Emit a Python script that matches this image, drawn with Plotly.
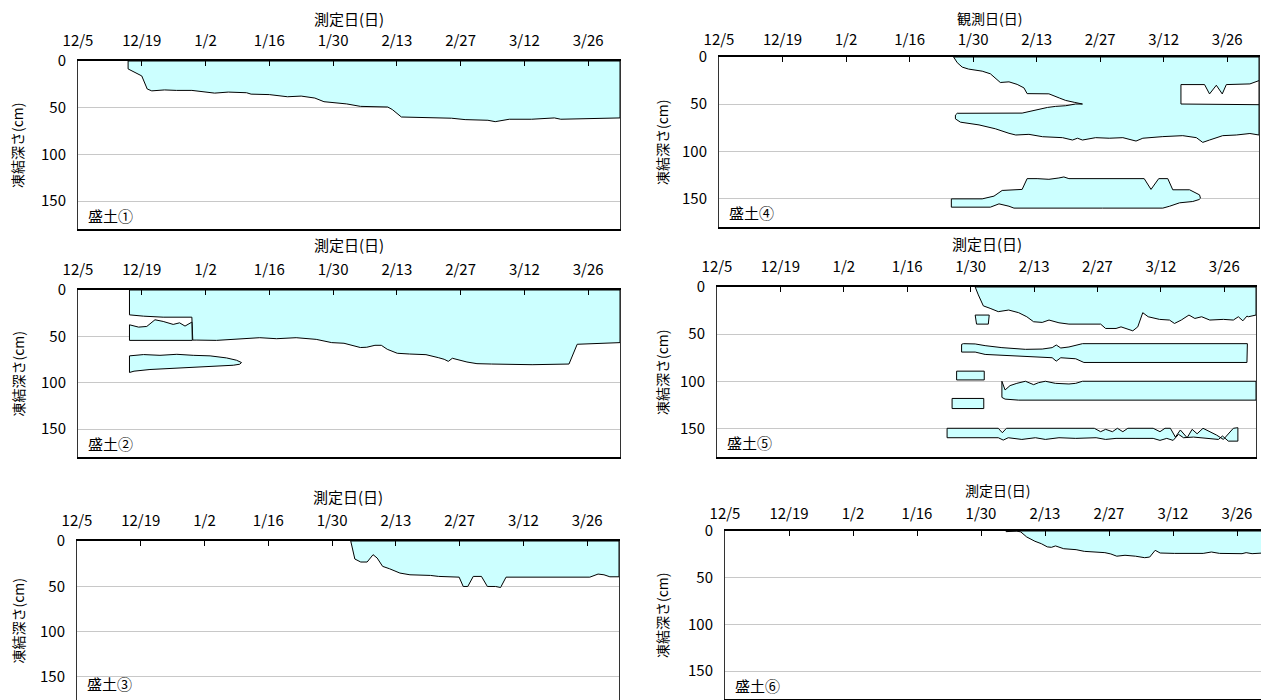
import plotly.graph_objects as go

# ---------------- axis labels ----------------
tick_days = [0, 14, 28, 42, 56, 70, 84, 98, 112]
tick_labels = ["12/5", "12/19", "1/2", "1/16", "1/30", "2/13", "2/27", "3/12", "3/26"]
depth_ticks = [0, 50, 100, 150]
x_titles = ["測定日(日)", "測定日(日)", "測定日(日)", "観測日(日)", "測定日(日)", "測定日(日)"]
y_title = "凍結深さ(cm)"
panel_names = ["盛土①", "盛土②", "盛土③", "盛土④", "盛土⑤", "盛土⑥"]

# ---------------- data (days since 12/5, frozen depth cm) ----------------
# Panel 1
p1_top_day = [11, 119]
p1_top_depth = [0, 0]
p1_bot_day = [11, 14, 15.2, 16.2, 19, 21.6, 25, 28, 30, 33, 37, 38, 42, 46, 49, 52, 54, 59, 62, 68,
              69, 71, 74.5, 78, 82, 85, 90, 91.6, 94.7, 99.6, 104.6, 106, 119]
p1_bot_depth = [8.5, 16, 30, 32, 31, 31.5, 31.5, 33, 34.4, 33.3, 34, 35.5, 36, 38.3, 37.6, 39.7, 43.6, 46, 48.6, 49.3,
                52, 60, 60, 61, 61.3, 62.8, 63.5, 65, 62.4, 62.4, 61, 62.4, 61]

# Panel 2
p2_a_top_day = [11.3, 119]
p2_a_top_depth = [0, 0]
p2_a_bot_day = [11.3, 14.4, 18.7, 25.0, 25.2, 26.1, 30.4, 34.1, 39.9, 43.6, 47.9, 52.3, 55.7, 58.4, 62, 63.4,
                65.2, 66.6, 67.9, 70.1, 72.8, 76.4, 79.1, 80.4, 81.3, 82.2, 85.4, 87.6, 90.8, 99.7, 107.8,
                109.6, 113.2, 119]
p2_a_bot_depth = [26.8, 28.2, 29.3, 29.3, 54.0, 54.0, 54.3, 53.2, 51.4, 52.5, 51.4, 53.2, 56.7, 57.4, 62, 61.7,
                  59.6, 59.6, 63.9, 68.2, 69, 69.7, 72.9, 74.7, 76.9, 73.6, 77.6, 79.4, 79.8, 80.5, 79.8,
                  58.5, 57.8, 56.7]
p2_b_top_day = [11.3, 13.3, 15.1, 16.9, 18.7, 20.9, 22.3, 23.5, 25.0]
p2_b_top_depth = [37.5, 40, 39.3, 32.1, 33.9, 37.1, 35.4, 38.9, 34.6]
p2_b_bot_day = [11.3, 25.1]
p2_b_bot_depth = [54.3, 54.3]
p2_c_top_day = [11.3, 14.4, 18, 21.7, 25.3, 29, 32.6, 34.8, 35.9]
p2_c_top_depth = [71, 69.6, 70.4, 69.3, 70.4, 71, 73.2, 75.7, 78.2]
p2_c_bot_day = [11.3, 12.3, 15.8, 20.2, 25.3, 30.4, 34.1, 35.5, 35.9]
p2_c_bot_depth = [88.9, 87.5, 85.7, 84.6, 83.2, 82.1, 81.1, 80, 78.2]

# Panel 3
p3_top_day = [60.1, 119]
p3_top_depth = [0, 0]
p3_bot_day = [60.1, 61, 62.3, 63.7, 65, 65.9, 67.1, 68.6, 70.9, 73.1, 77.6, 79.4, 83.9, 84.8, 85.8, 87,
              88.8, 90.1, 91.9, 93, 94.2, 112.6, 114.4, 115.7, 117, 119]
p3_bot_depth = [0, 19.9, 23.2, 23.2, 15.1, 18.8, 28, 30.6, 35.4, 37.3, 38, 39.1, 39.9, 50.2, 50.2, 39.1,
                39.1, 50.2, 50.2, 51.3, 39.9, 39.9, 36.5, 37.3, 39.5, 39.5]

# Panel 4
p4_surface_day = [51.7, 119]
p4_surface_depth = [0, 0]
p4_upper_lower_day = [51.7, 52.5, 53.6, 55, 58, 59.8, 62, 63.9, 65.7, 67.2, 67.9, 72.7, 75, 76.4, 78.3, 80.1]
p4_upper_lower_depth = [0, 6, 10.7, 12.8, 15, 17.8, 27, 26.3, 29, 32.7, 38.8, 39, 43.4, 46, 48, 49.8]
p4_mid_upper_day = [52.1, 52.5, 66.8, 68.3, 70.5, 72.4, 74.2, 76.4, 78.6, 80.1]
p4_mid_upper_depth = [61.5, 59.6, 59.4, 57.7, 55.5, 53.4, 52.3, 51.6, 49.8, 49.8]
p4_lower_day = [52.1, 53.2, 57.3, 60.9, 63.9, 65.4, 68.3, 71.3, 75.7, 77.9, 79, 80.1, 83, 86, 89, 91.9,
                93.4, 97.8, 102.2, 105.2, 106.6, 108.1, 111, 114, 117, 119]
p4_lower_depth = [65.5, 69, 71.9, 76, 80.8, 82.6, 81.9, 84.4, 85.4, 87.9, 86, 87.9, 85.4, 86, 85.4, 89,
                  86, 84.3, 83.3, 85.4, 90.4, 87.9, 83.3, 82.6, 81, 82.6]
p4_hole_top_day = [101.8, 107, 108.1, 109.6, 110.9, 111.8, 117, 118.6, 119]
p4_hole_top_depth = [29.2, 29.2, 39.1, 29.9, 39.1, 29.2, 28.5, 25.6, 25]
p4_hole_bot_day = [101.8, 111, 117, 119]
p4_hole_bot_depth = [49.8, 49.8, 50.5, 50.5]
p4_deep_top_day = [51.2, 58, 60.6, 62.4, 66.8, 67.9, 70.1, 72.7, 74.9, 76, 77.1, 93.7, 95.2, 96.9, 98.9,
                   100, 103.7, 105.2, 105.9, 106.1]
p4_deep_top_depth = [150.2, 150.2, 147.3, 141.3, 140.2, 128.8, 128.8, 129.5, 128.1, 127, 128.8, 128.8,
                     140.2, 128.8, 128.8, 140.6, 140.6, 143.8, 146, 149.5]
p4_deep_bot_day = [51.2, 59.8, 61.7, 63.9, 65, 84.5, 97.8, 99.3, 101.5, 104.4, 105.8, 106.1]
p4_deep_bot_depth = [159, 159, 155.5, 158, 160, 160, 160, 158, 154.4, 153, 150.9, 149.5]

# Panel 5
p5_z1_top_day = [57, 119]
p5_z1_top_depth = [0, 0]
p5_z1_bot_day = [57, 57.7, 58.8, 60.3, 62.1, 64.4, 66.6, 68.4, 69.9, 71.8, 73.3, 75.5, 77.7, 84.7, 85.8,
                 88.1, 89.2, 91.8, 92.9, 94, 95.2, 97.7, 99.9, 101, 102.5, 104.2, 105.5, 107, 108.8, 111.8,
                 114, 115.1, 116.1, 117, 117.3, 119]
p5_z1_bot_depth = [0, 8.4, 20, 22.6, 26.1, 24.4, 27.2, 31.5, 36.8, 37.5, 35, 37.9, 39.3, 39.3, 43.9,
                   43.9, 42.2, 46.4, 42.2, 27.2, 31.5, 34.3, 35, 38.6, 35, 29.7, 33.3, 31.5, 35, 34.3,
                   35, 31.5, 35.8, 30.8, 31.5, 29.7]
p5_z2_top_day = [57, 60.1]
p5_z2_top_depth = [29.7, 29.7]
p5_z2_bot_day = [57.3, 59.9]
p5_z2_bot_depth = [39.3, 39.3]
p5_z3_top_day = [54, 54.4, 57, 59.2, 62.9, 68.1, 71.8, 74, 74.9, 75.9, 77.7, 79.6, 80.7, 117.1]
p5_z3_top_depth = [60.7, 60, 60.3, 62.1, 64.2, 66, 65.7, 64.2, 61.4, 64.6, 63.5, 61.7, 60, 60]
p5_z3_bot_day = [54, 57, 59.2, 62.9, 70.3, 74, 74.9, 75.9, 79.2, 81, 117]
p5_z3_bot_depth = [68.9, 68.9, 71.4, 72.4, 74.2, 74.9, 78.5, 74.9, 76, 79.9, 79.9]
p5_z4_top_day = [52.9, 59]
p5_z4_top_depth = [89.1, 89.1]
p5_z4_bot_day = [52.9, 59]
p5_z4_bot_depth = [98.4, 98.4]
p5_z5_top_day = [62.9, 63.6, 64.7, 66.2, 68.1, 69.9, 71, 72.5, 74.7, 77.7, 79.2, 80.7, 119]
p5_z5_top_depth = [99.8, 109, 104.4, 102, 99.8, 103.4, 101.3, 99.8, 102, 102.7, 102, 99.8, 99.8]
p5_z5_bot_day = [62.9, 63.6, 66.6, 119]
p5_z5_bot_depth = [116.9, 118.7, 119.8, 119.8]
p5_z6_top_day = [51.9, 58.9]
p5_z6_top_depth = [118, 118]
p5_z6_bot_day = [51.9, 58.9]
p5_z6_bot_depth = [128.7, 128.7]
p5_z7_top_day = [50.8, 62.1, 63, 63.9, 83.3, 84.7, 85.8, 87.3, 88.4, 89.6, 90.7, 96.3, 97.8, 98.9, 100.1,
                 101.2, 102.3, 103.8, 104.9, 106, 107.3, 110.3, 111.8, 112.9, 114, 115]
p5_z7_top_depth = [149.6, 149.6, 154.3, 149.6, 149.6, 153.2, 150.7, 153.2, 149.6, 153.2, 149.6, 149.6,
                   153.2, 149.6, 149.6, 158.9, 151.4, 159.6, 150.7, 155.4, 149.6, 156.8, 161.4, 156,
                   149.6, 149]
p5_z7_bot_day = [50.8, 62.1, 63.2, 64.3, 67.3, 70.3, 72.5, 75.5, 79.2, 83.7, 85.8, 88.1, 92.5, 96.3, 97.8,
                 99.3, 100.7, 101.9, 103, 105.2, 107.3, 110.7, 111.6, 112.9, 115]
p5_z7_bot_depth = [159.6, 159.6, 162.1, 159.6, 161.4, 159.6, 161.4, 159.6, 160.3, 159.6, 161.4, 160.3,
                   160.3, 160.3, 162.4, 160.3, 162.4, 156, 159.6, 158.9, 160.3, 161.4, 157.8, 163.2, 163.2]

# Panel 6
p6_top_day = [61.5, 119]
p6_top_depth = [0, 0]
p6_bot_day = [61.5, 63.8, 64.7, 66, 67.8, 69.2, 70.5, 71.4, 72.3, 74.1, 76.8, 78.6, 83.1, 84.4, 85.7,
              87.5, 89.8, 91.8, 92.9, 94.1, 95.2, 98.3, 104.6, 106.4, 108.2, 113.1, 114, 115.3, 117.6, 119]
p6_bot_depth = [0.7, 0, 1, 6.4, 11, 13.6, 17, 17.5, 16, 19, 20, 21.8, 23.2, 24.6, 27, 26, 27, 28.6,
                27.9, 20.7, 23.6, 24, 24, 22.5, 24, 24.3, 23.2, 24.3, 23.6, 20.7]

# ---------------- build ----------------
W, H = 1269, 700
OFF = 8  # the page body offsets the figure by 8px
FONT = "Noto Sans CJK JP"
FILL = "#CCFFFF"

# screen pixel boxes (left, right, top, bottom), lower depth limit, title shift, title size, tick standoff
boxes = [
    (78, 620, 61, 229, 180, 43, 15, 7),
    (78, 620, 290, 457, 180, 45, 15, 7),
    (77, 619, 541, 700, 175.5, 45, 15, 7),
    (719, 1259, 57, 227, 180, 39, 14, 4),
    (717, 1256, 287, 457, 180, 44, 15, 7),
    (725, 1269, 531, 699, 180, 41, 14, 4),
]


def band(td, tv, bd, bv):
    xs = list(td) + list(reversed(bd)) + [td[0]]
    ys = list(tv) + list(reversed(bv)) + [tv[0]]
    return xs, ys


fig = go.Figure()


def add(panel, xs, ys, fill=FILL):
    fig.add_trace(go.Scatter(
        x=xs, y=ys, mode="lines", fill="toself", fillcolor=fill,
        line=dict(color="black", width=1), hoverinfo="skip", showlegend=False,
        xaxis="x" if panel == 1 else f"x{panel}",
        yaxis="y" if panel == 1 else f"y{panel}",
    ))


add(1, *band(p1_top_day, p1_top_depth, p1_bot_day, p1_bot_depth))

add(2, *band(p2_a_top_day, p2_a_top_depth, p2_a_bot_day, p2_a_bot_depth))
add(2, *band(p2_b_top_day, p2_b_top_depth, p2_b_bot_day, p2_b_bot_depth))
add(2, *band(p2_c_top_day, p2_c_top_depth, p2_c_bot_day, p2_c_bot_depth))

add(3, *band(p3_top_day, p3_top_depth, p3_bot_day, p3_bot_depth))

# panel 4 main outline: surface -> lower boundary (reversed) -> middle upper -> upper zone lower (reversed)
p4x = (p4_surface_day + [119] + list(reversed(p4_lower_day)) + p4_mid_upper_day
       + list(reversed(p4_upper_lower_day)))
p4y = (p4_surface_depth + [p4_lower_depth[-1]] + list(reversed(p4_lower_depth)) + p4_mid_upper_depth
       + list(reversed(p4_upper_lower_depth)))
add(4, p4x, p4y)
add(4, *band(p4_hole_top_day, p4_hole_top_depth, p4_hole_bot_day, p4_hole_bot_depth), fill="white")
add(4, *band(p4_deep_top_day, p4_deep_top_depth, p4_deep_bot_day, p4_deep_bot_depth))

add(5, *band(p5_z1_top_day, p5_z1_top_depth, p5_z1_bot_day, p5_z1_bot_depth))
add(5, *band(p5_z2_top_day, p5_z2_top_depth, p5_z2_bot_day, p5_z2_bot_depth))
add(5, *band(p5_z3_top_day, p5_z3_top_depth, p5_z3_bot_day, p5_z3_bot_depth))
add(5, *band(p5_z4_top_day, p5_z4_top_depth, p5_z4_bot_day, p5_z4_bot_depth))
add(5, *band(p5_z5_top_day, p5_z5_top_depth, p5_z5_bot_day, p5_z5_bot_depth))
add(5, *band(p5_z6_top_day, p5_z6_top_depth, p5_z6_bot_day, p5_z6_bot_depth))
add(5, *band(p5_z7_top_day, p5_z7_top_depth, p5_z7_bot_day, p5_z7_bot_depth))

add(6, *band(p6_top_day, p6_top_depth, p6_bot_day, p6_bot_depth))

layout = dict(
    width=W, height=H, autosize=False,
    margin=dict(l=0, r=0, t=0, b=0, pad=0, autoexpand=False),
    paper_bgcolor="white", plot_bgcolor="white", showlegend=False,
    font=dict(family=FONT, size=13, color="black"),
)
annotations = []
for i, (l, r, t, b, ymax, tshift, tsize, tstand) in enumerate(boxes, start=1):
    l, r, t, b = l - OFF, r - OFF, t - OFF, b - OFF
    xk = "xaxis" if i == 1 else f"xaxis{i}"
    yk = "yaxis" if i == 1 else f"yaxis{i}"
    xr = "x" if i == 1 else f"x{i}"
    yr = "y" if i == 1 else f"y{i}"
    layout[xk] = dict(
        domain=[l / W, r / W], range=[0, 119], side="top", anchor=yr,
        tickmode="array", tickvals=tick_days, ticktext=tick_labels,
        ticks="inside", ticklen=5, tickcolor="black", ticklabelstandoff=tstand,
        showline=True, linecolor="black", linewidth=1.5, mirror=True, automargin=False,
        showgrid=False, zeroline=False, tickfont=dict(family=FONT, size=15, color="black"),
        fixedrange=True,
    )
    layout[yk] = dict(
        domain=[1 - b / H, 1 - t / H], range=[ymax, 0], anchor=xr,
        tickmode="array", tickvals=depth_ticks, ticks="", ticklabelstandoff=8,
        showline=True, linecolor="#333333", linewidth=1, mirror=True, automargin=False,
        showgrid=True, gridcolor="#C8C8C8", gridwidth=1, zeroline=False,
        tickfont=dict(family=FONT, size=15, color="black"), fixedrange=True,
    )
    # x title
    annotations.append(dict(
        text=x_titles[i - 1], xref=f"{xr} domain", yref=f"{yr} domain", x=0.5, y=1,
        yshift=tshift, xanchor="center", yanchor="middle", showarrow=False,
        font=dict(family=FONT, size=tsize, color="black"),
    ))
    # y title
    ypx = (17 if l < 300 else 662) - OFF
    annotations.append(dict(
        text=y_title, xref="paper", yref=f"{yr} domain", x=ypx / W, y=0.5,
        xanchor="center", yanchor="middle", textangle=-90, showarrow=False,
        font=dict(family=FONT, size=14, color="black"),
    ))
    # panel name
    annotations.append(dict(
        text=panel_names[i - 1], xref=f"{xr} domain", yref=yr, x=0.015,
        y=157 if ymax < 180 else 165, xanchor="left", yanchor="middle", showarrow=False,
        font=dict(family=FONT, size=15, color="black"),
    ))
layout["annotations"] = annotations

fig.update_layout(**layout)
fig.write_html("out.html")
